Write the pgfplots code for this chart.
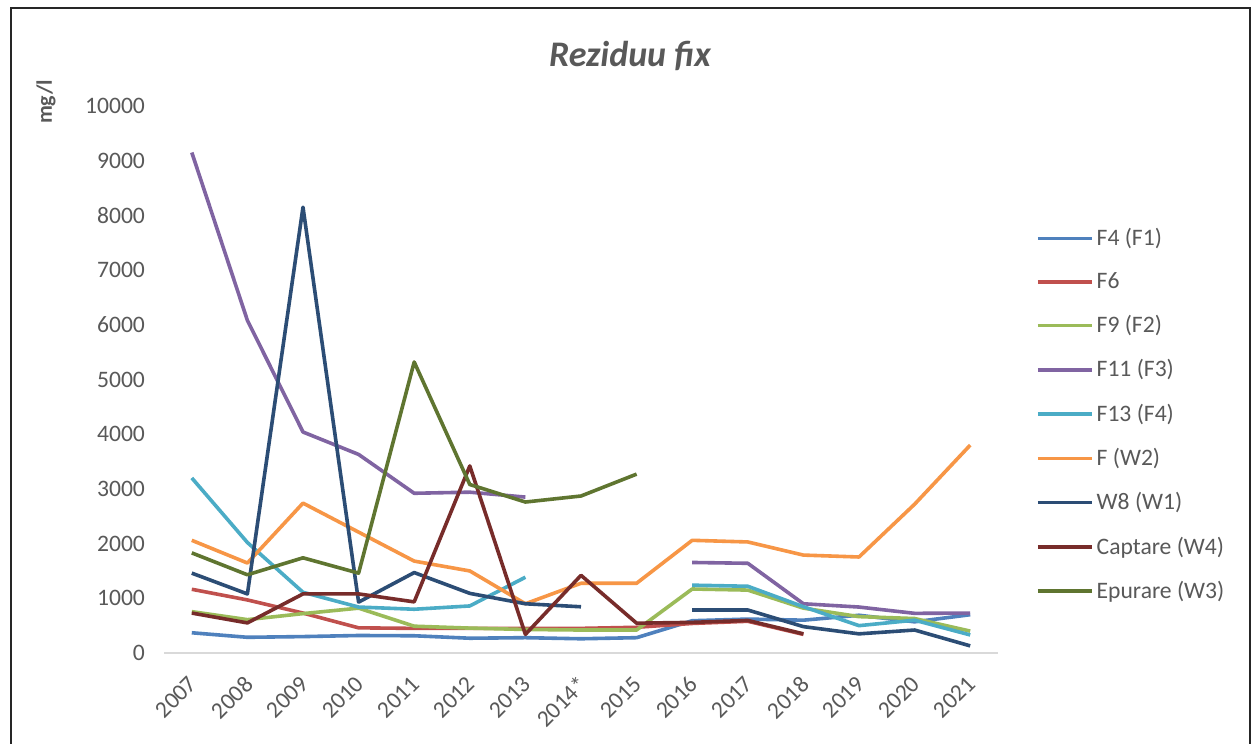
\documentclass[border=0pt]{standalone}
\usepackage{fontspec}
\setmainfont{Carlito}
\usepackage{pgfplots}
\pgfplotsset{compat=1.18}
\definecolor{cF4}{HTML}{4F81BD}
\definecolor{cF6}{HTML}{C0504D}
\definecolor{cF9}{HTML}{9BBB59}
\definecolor{cF11}{HTML}{8064A2}
\definecolor{cF13}{HTML}{4BACC6}
\definecolor{cFW}{HTML}{F79646}
\definecolor{cW8}{HTML}{2C4D75}
\definecolor{cCap}{HTML}{772C2A}
\definecolor{cEp}{HTML}{5F7530}
\definecolor{txt}{HTML}{595959}
\begin{document}
\begin{tikzpicture}
\useasboundingbox (0,0) rectangle (626.5pt,372pt);
\fill[white] (0,0) rectangle (626.5pt,372pt);
\draw[line width=1.2pt, black!85] (5.5pt,-5pt) -- (5.5pt,368pt) -- (625pt,368pt) -- (625pt,-5pt);
\node[font=\fontsize{18}{20}\selectfont\bfseries\itshape, text=txt] at (315pt,344pt) {Reziduu fix};
\node[rotate=90, font=\fontsize{11}{13}\selectfont\bfseries, text=txt] at (23pt,321pt) {mg/l};
\begin{axis}[
  at={(82pt,45.5pt)}, anchor=south west,
  scale only axis, width=417pt, height=273.5pt,
  xmin=-0.5, xmax=14.5, ymin=0, ymax=10000,
  axis x line=bottom, axis y line=left,
  y axis line style={draw=none},
  x axis line style={-, draw=black!15, line width=0.8pt},
  major tick length=0pt,
  xtick={0,...,14},
  xticklabels={2007,2008,2009,2010,2011,2012,2013,2014*,2015,2016,2017,2018,2019,2020,2021},
  ytick={0,1000,...,10000},
  scaled y ticks=false,
  yticklabel={\pgfmathprintnumber[fixed,precision=0,1000 sep={}]{\tick}},
  /pgf/number format/assume math mode=true,
  /pgf/number format/1000 sep={},
  tick label style={font=\fontsize{11.8}{14}\selectfont, text=txt},
  yticklabel style={xshift=-6pt},
  xticklabel style={rotate=45, anchor=north east, inner sep=0pt, xshift=-9pt, yshift=-6pt},
  unbounded coords=jump,
  every axis plot/.append style={line width=1.8pt, line join=round, no markers},
  legend style={at={(axis description cs:1.038,0.79)}, anchor=north west, draw=none, fill=none,
    font=\fontsize{11.8}{14}\selectfont, text=txt, row sep=9pt,
    nodes={inner sep=1.5pt}},
  legend cell align=left,
  legend image code/.code={\draw[#1, line width=1.8pt] (0pt,0pt) -- (27pt,0pt);},
]
\addplot[cF4] coordinates {(0,370) (1,287) (2,300) (3,320) (4,315) (5,270) (6,280) (7,260) (8,280) (9,590) (10,620) (11,600) (12,690) (13,570) (14,700)};
\addlegendentry{F4 (F1)}
\addplot[cF6] coordinates {(0,1165) (1,970) (2,730) (3,460) (4,450) (5,450) (6,450) (7,450) (8,470) (9,540) (10,580) (11,340) (12,nan) (13,nan) (14,nan)};
\addlegendentry{F6}
\addplot[cF9] coordinates {(0,756) (1,610) (2,720) (3,820) (4,490) (5,455) (6,430) (7,420) (8,420) (9,1170) (10,1150) (11,820) (12,665) (13,630) (14,400)};
\addlegendentry{F9 (F2)}
\addplot[cF11] coordinates {(0,9150) (1,6080) (2,4040) (3,3630) (4,2920) (5,2940) (6,2850) (7,nan) (8,nan) (9,1655) (10,1640) (11,900) (12,840) (13,725) (14,730)};
\addlegendentry{F11 (F3)}
\addplot[cF13] coordinates {(0,3200) (1,2020) (2,1110) (3,840) (4,800) (5,860) (6,1385) (7,nan) (8,nan) (9,1240) (10,1220) (11,846) (12,500) (13,600) (14,330)};
\addlegendentry{F13 (F4)}
\addplot[cFW] coordinates {(0,2060) (1,1645) (2,2740) (3,2210) (4,1680) (5,1500) (6,900) (7,1275) (8,1275) (9,2060) (10,2030) (11,1790) (12,1755) (13,2720) (14,3800)};
\addlegendentry{F (W2)}
\addplot[cW8] coordinates {(0,1460) (1,1080) (2,8150) (3,930) (4,1470) (5,1090) (6,900) (7,845) (8,nan) (9,786) (10,786) (11,482) (12,350) (13,420) (14,130)};
\addlegendentry{W8 (W1)}
\addplot[cCap] coordinates {(0,730) (1,550) (2,1080) (3,1080) (4,935) (5,3420) (6,340) (7,1420) (8,545) (9,560) (10,595) (11,350) (12,nan) (13,nan) (14,nan)};
\addlegendentry{Captare (W4)}
\addplot[cEp] coordinates {(0,1830) (1,1430) (2,1740) (3,1460) (4,5320) (5,3080) (6,2760) (7,2870) (8,3270) (9,nan) (10,nan) (11,nan) (12,nan) (13,nan) (14,nan)};
\addlegendentry{Epurare (W3)}
\end{axis}
\end{tikzpicture}
\end{document}
